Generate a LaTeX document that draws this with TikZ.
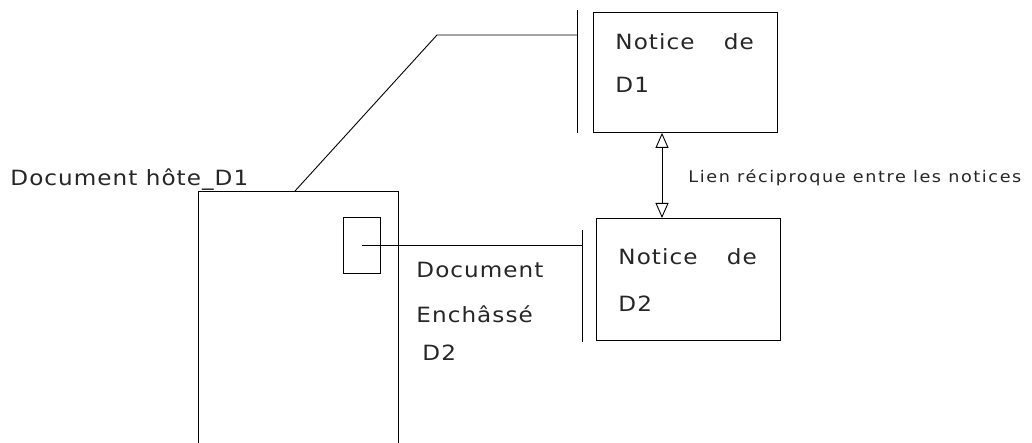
\documentclass[tikz,border=0pt]{standalone}
\usepackage{fontspec}
\setmainfont{DejaVu Sans}
\newfontfamily\spacedA{DejaVu Sans}[FakeStretch=1.1,LetterSpace=5]
\newfontfamily\spacedB{DejaVu Sans}[FakeStretch=1.1,LetterSpace=10]
\usetikzlibrary{arrows.meta}
\begin{document}
\begin{tikzpicture}[x=1pt,y=-1pt,line width=0.9pt,
  lbl/.style={inner sep=0pt,anchor=base west,font=\spacedA\fontsize{21}{21}\selectfont,text=black!85},
  small/.style={inner sep=0pt,anchor=base west,font=\spacedB\fontsize{16}{16}\selectfont,text=black!85},
  box/.style={draw,inner sep=0pt,anchor=north west},
  tri/.tip={Triangle[open,length=15pt,width=13pt]}]
\useasboundingbox (0,0) rectangle (1032,443);
% host document (open at the bottom)
\coordinate (hBL) at (198,443);
\coordinate (hTL) at (198,191);
\coordinate (hTR) at (398,191);
\coordinate (hBR) at (398,443);
\draw (hBL) -- (hTL) -- (hTR) -- (hBR);
% embedded document
\node[box,minimum width=37pt,minimum height=56pt] (emb) at (343,217) {};
% bars
\coordinate (b1t) at (577,10);
\coordinate (b1b) at (577,133);
\coordinate (b2t) at (582,230);
\coordinate (b2b) at (582,342);
\draw (b1t) -- (b1b);
\draw (b2t) -- (b2b);
% notice boxes
\node[box,minimum width=184pt,minimum height=120pt] (d1) at (593,12) {};
\node[box,minimum width=184pt,minimum height=122pt] (d2) at (596,218) {};
% connectors
\coordinate (hs) at (295,191);
\coordinate (bend) at (437,35);
\draw (hs) -- (bend) -- (bend -| b1t);
\draw (emb.center) -- (emb.center -| b2t);
\coordinate (ax) at (662,0);
\draw[tri-tri] (d1.south -| ax) -- (d2.north -| ax);
% texts
\node[lbl] (thost) at (10,186) {Document hôte\_D1};
\node[lbl] (tdoc) at (416,278) {Document};
\node[lbl] (tench) at (416,322) {Enchâssé};
\node[lbl] (td2) at (422,360) {D2};
\node[lbl] (n1a) at (615,50) {Notice\hspace{1.4em}de};
\node[lbl] (n1b) at (615,93) {D1};
\node[lbl] (n2a) at (618,265) {Notice\hspace{1.4em}de};
\node[lbl] (n2b) at (618,312) {D2};
\node[small] (lien) at (688,183) {Lien réciproque entre les notices};
\end{tikzpicture}
\end{document}
